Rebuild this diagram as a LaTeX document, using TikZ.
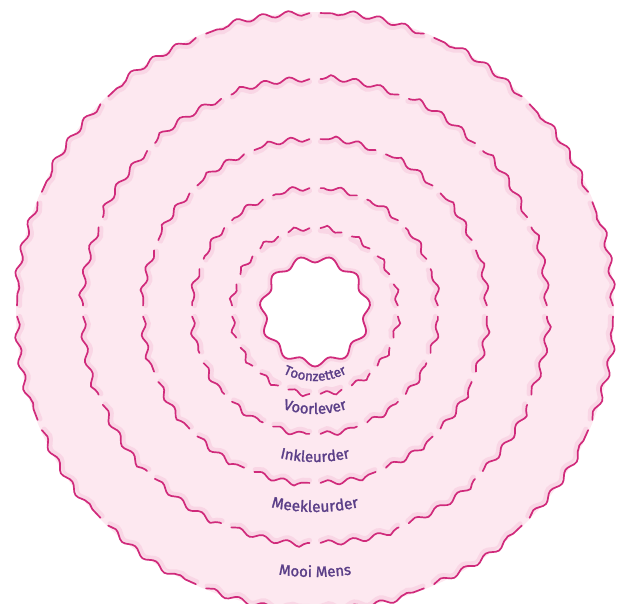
\documentclass[tikz,border=0pt]{standalone}
\usepackage{fontspec}
\setmainfont{Fira Sans}
\newfontfamily\lblfont{Fira Sans}[UprightFeatures={FakeBold=1.5}]
\usetikzlibrary{decorations.pathmorphing,decorations.text}

\definecolor{bandpink}{HTML}{FDE8F0}
\definecolor{wavepink}{HTML}{D02A7B}
\definecolor{glowpink}{HTML}{F7C9DC}
\definecolor{labelpurple}{HTML}{5B3F88}

\tikzset{
  wave/.style={draw=wavepink, line width=1.7pt, line cap=round, decorate,
    decoration={snake, segment length=24pt, amplitude=2.6pt}},
  waveglow/.style={draw=glowpink, line width=5pt, line cap=round, opacity=0.55, decorate,
    decoration={snake, segment length=24pt, amplitude=2.6pt}},
  ringlabel/.style={decorate, decoration={text along path, text align=center, text color=labelpurple}}
}

\begin{document}
\begin{tikzpicture}[x=1pt,y=1pt]
\useasboundingbox (-315,-292) rectangle (302,311);
\coordinate (c) at (0,0);
% background of the bands
\fill[bandpink] (c) circle[radius=299];
% dashed wavy rings
\foreach \r/\sl/\amp in {298/26/2.6, 232/25/2.6, 172/23/2.5, 123/21/2.4, 83/19/2.3} {
  \pgfmathsetmacro\gap{5.5/\r*57.2958}
  \pgfmathsetmacro\rr{\r-2.5}
  \foreach \k in {0,...,15} {
    \pgfmathsetmacro\a{\k*22.5+\gap}
    \pgfmathsetmacro\b{(\k+1)*22.5-\gap}
    \draw[waveglow, decoration={segment length=\sl pt, amplitude=\amp pt}]
      (\a:\rr) arc[start angle=\a, end angle=\b, radius=\rr];
    \draw[wave, decoration={segment length=\sl pt, amplitude=\amp pt}]
      (\a:\r) arc[start angle=\a, end angle=\b, radius=\r];
  }
}
% centre
\draw[glowpink, line width=4pt, opacity=0.55]
  plot[domain=0:357, samples=120, smooth cycle] (\x:{54+3.5*sin(11*\x)});
\draw[wavepink, line width=1.8pt, fill=white]
  plot[domain=0:357, samples=120, smooth cycle] (\x:{52+3.5*sin(11*\x)});
% labels
\path[ringlabel, decoration={text={|\lblfont\fontsize{13.5}{15}\selectfont|Toonzetter}}]
  (200:70) arc[start angle=200, end angle=340, radius=70];
\path[ringlabel, decoration={text={|\lblfont\fontsize{15}{16}\selectfont|Voorlever}}]
  (220:103) arc[start angle=220, end angle=320, radius=103];
\path[ringlabel, decoration={text={|\lblfont\fontsize{15}{16}\selectfont|Inkleurder}}]
  (230:151) arc[start angle=230, end angle=310, radius=151];
\path[ringlabel, decoration={text={|\lblfont\fontsize{15.5}{17}\selectfont|Meekleurder}}]
  (235:201) arc[start angle=235, end angle=305, radius=201];
\path[ringlabel, decoration={text={|\lblfont\fontsize{15}{17}\selectfont|Mooi Mens}}]
  (240:266) arc[start angle=240, end angle=300, radius=266];
\end{tikzpicture}
\end{document}
